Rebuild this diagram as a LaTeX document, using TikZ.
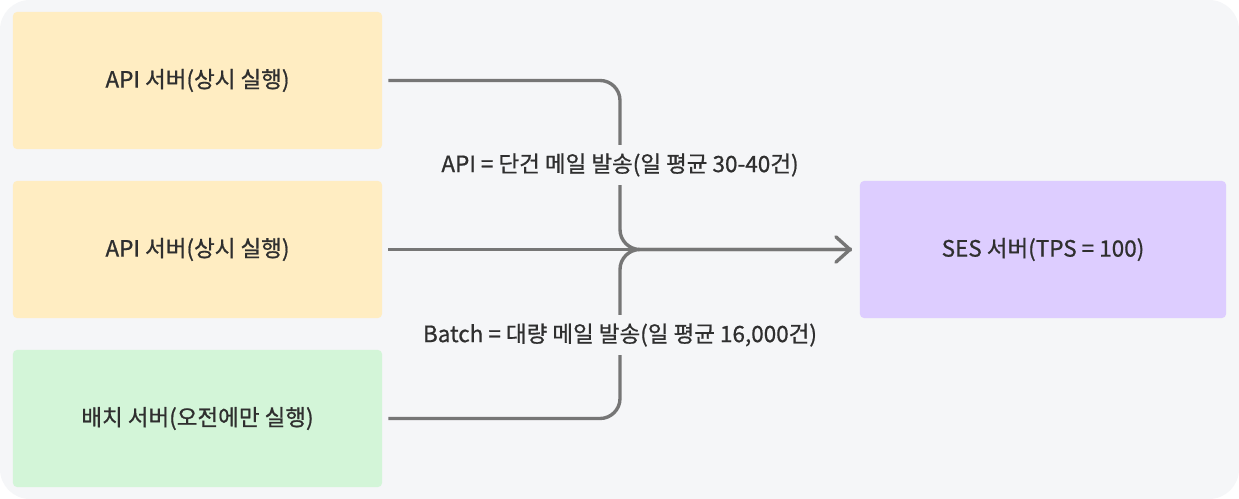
\documentclass[tikz,border=0pt]{standalone}
\usepackage{fontspec}
\setmainfont[FakeBold=0.8]{Noto Sans CJK KR}
\usetikzlibrary{arrows.meta}
\definecolor{ink}{HTML}{2F2F2F}
\definecolor{paper}{HTML}{F5F6F8}
\definecolor{wire}{HTML}{767676}
\definecolor{apicol}{HTML}{FFEDC2}
\definecolor{batchcol}{HTML}{D3F5D8}
\definecolor{sescol}{HTML}{DDCDFF}
\def\W{1239}
\def\H{499}
\def\jx{620}
\tikzset{
  server/.style={rounded corners=0.1cm,minimum width=9.225cm,minimum height=3.425cm,
    inner sep=0pt,text=ink,font=\fontsize{16}{19}\selectfont},
  flow/.style={wire,line width=2.4pt,rounded corners=0.5cm,shorten <=0.15cm,shorten >=0.2cm},
  tip/.style={-{Straight Barb[length=10pt,width=18pt,line cap=round,line join=round]}},
  lbl/.style={fill=paper,text=ink,inner xsep=2pt,inner ysep=0.2cm,font=\fontsize{16}{19}\selectfont},
}

\begin{document}
\begin{tikzpicture}[x=0.025cm,y=-0.025cm]

% ---------------------------------------------------------------- canvas
\fill[white] (0,0) rectangle (\W,\H);
\fill[paper,rounded corners=0.75cm] (0,0) rectangle (\W,\H);

% ---------------------------------------------------------------- servers
\node[server,fill=apicol] (api1) at (197.5,80.5) {API 서버(상시 실행)};
\node[server,fill=apicol] (api2) at (197.5,249.5) {API 서버(상시 실행)};
\node[server,fill=batchcol] (batch) at (197.5,418.5) {배치 서버(오전에만 실행)};
\node[server,fill=sescol,minimum width=9.15cm] (ses) at (1043,249.5) {SES 서버(TPS = 100)};

% ---------------------------------------------------------------- connectors
\coordinate (merge) at (\jx,249.5);
\draw[flow] (api1.east) -| (merge) -- (ses.west);
\draw[flow] (batch.east) -| (merge) -- (ses.west);
\draw[flow,tip] (api2.east) -- (ses.west);

% ---------------------------------------------------------------- labels
\node[lbl] (apilbl) at (\jx,165) {API = 단건 메일 발송(일 평균 30-40건)};
\node[lbl] (batchlbl) at (\jx,335) {Batch = 대량 메일 발송(일 평균 16,000건)};

\end{tikzpicture}
\end{document}
